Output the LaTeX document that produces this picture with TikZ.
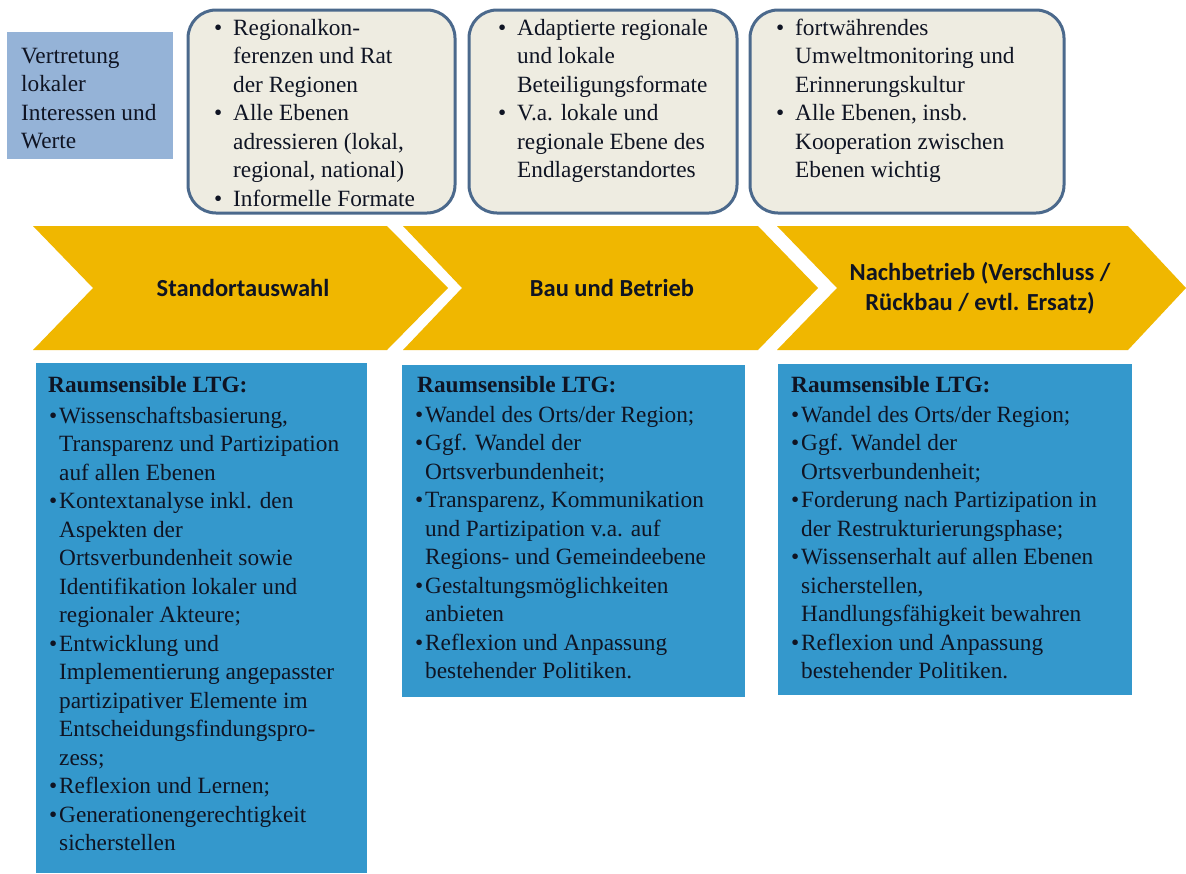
\documentclass[tikz,border=0pt]{standalone}
\usepackage{fontspec}
\setmainfont{Liberation Serif}
\newfontfamily\calib{Carlito}
\definecolor{chev}{RGB}{240,183,0}
\definecolor{bluebox}{RGB}{52,152,204}
\definecolor{topfill}{RGB}{238,236,225}
\definecolor{topline}{RGB}{75,105,140}
\definecolor{leftfill}{RGB}{149,179,215}
\definecolor{txt}{RGB}{15,20,35}
\tikzset{
  chevron/.style={fill=chev, draw=none},
  phase/.style={font=\calib\bfseries\fontsize{24.5}{30}\selectfont, text=txt, align=center, inner sep=0},
  topbox/.style={fill=topfill, draw=topline, line width=3pt, rounded corners=28pt},
  ltgbox/.style={fill=bluebox, draw=none},
  body/.style={font=\fontsize{23.3}{28.5}\selectfont, text=txt, align=left, inner sep=0, anchor=north west},
  hdr/.style={body, font=\bfseries\fontsize{23.3}{28.5}\selectfont},
}
\newcommand{\bl}{\llap{\textbullet\kern2pt}}
\newcommand{\tb}{\llap{\textbullet\kern11pt}}
\begin{document}
\begin{tikzpicture}[x=1pt,y=-1pt]
\useasboundingbox[fill=white] (0,0) rectangle (1186,873);
% left label
\fill[leftfill] (7,32) rectangle (173,159);
\node[body] (vert) at (21,43.05) {\strut Vertretung\\lokaler\\Interessen und\\Werte};
% top boxes
\draw[topbox] (188,10) rectangle (455,213);
\draw[topbox] (469,10) rectangle (737,213);
\draw[topbox] (750,10) rectangle (1064,213);
\node[body] (t1) at (233,15.05) {\strut\tb Regionalkon-\\ferenzen und Rat\\der Regionen\\\tb Alle Ebenen\\adressieren (lokal,\\regional, national)\\\tb Informelle Formate};
\node[body] (t2) at (517,15.05) {\strut\tb Adaptierte regionale\\und lokale\\Beteiligungsformate\\\tb V.a. lokale und\\regionale Ebene des\\Endlagerstandortes};
\node[body] (t3) at (795,15.05) {\strut\tb fortwährendes\\Umweltmonitoring und\\Erinnerungskultur\\\tb Alle Ebenen, insb.\\Kooperation zwischen\\Ebenen wichtig};
% chevrons
\fill[chevron] (33,226) -- (387,226) -- (448,288) -- (387,350) -- (33,350) -- (93,288) -- cycle;
\fill[chevron] (403,226) -- (758,226) -- (818,288) -- (758,350) -- (403,350) -- (462,288) -- cycle;
\fill[chevron] (777,226) -- (1128,226) -- (1186,288) -- (1128,350) -- (777,350) -- (837,288) -- cycle;
\node[phase] (p1) at (243,288) {Standortauswahl};
\node[phase] (p2) at (612,288) {Bau und Betrieb};
\node[phase] (p3) at (980,288) {Nachbetrieb (Verschluss /\\Rückbau / evtl. Ersatz)};
% LTG boxes
\fill[ltgbox] (36,363) rectangle (367,873);
\fill[ltgbox] (402,365) rectangle (745,697);
\fill[ltgbox] (778,364) rectangle (1132,695);
\node[hdr] (h1) at (48,372.05) {\strut Raumsensible LTG:};
\node[hdr] (h2) at (417,372.05) {\strut Raumsensible LTG:};
\node[hdr] (h3) at (791,372.05) {\strut Raumsensible LTG:};
\node[body] (b1) at (59,403.05) {\strut\bl Wissenschaftsbasierung,\\Transparenz und Partizipation\\auf allen Ebenen\\\bl Kontextanalyse inkl. den\\Aspekten der\\Ortsverbundenheit sowie\\Identifikation lokaler und\\regionaler Akteure;\\\bl Entwicklung und\\Implementierung angepasster\\partizipativer Elemente im\\Entscheidungsfindungspro-\\zess;\\\bl Reflexion und Lernen;\\\bl Generationengerechtigkeit\\sicherstellen};
\node[body] (b2) at (425,402.05) {\strut\bl Wandel des Orts/der Region;\\\bl Ggf. Wandel der\\Ortsverbundenheit;\\\bl Transparenz, Kommunikation\\und Partizipation v.a. auf\\Regions- und Gemeindeebene\\\bl Gestaltungsmöglichkeiten\\anbieten\\\bl Reflexion und Anpassung\\bestehender Politiken.};
\node[body] (b3) at (801,402.05) {\strut\bl Wandel des Orts/der Region;\\\bl Ggf. Wandel der\\Ortsverbundenheit;\\\bl Forderung nach Partizipation in\\der Restrukturierungsphase;\\\bl Wissenserhalt auf allen Ebenen\\sicherstellen,\\Handlungsfähigkeit bewahren\\\bl Reflexion und Anpassung\\bestehender Politiken.};
\end{tikzpicture}
\end{document}
